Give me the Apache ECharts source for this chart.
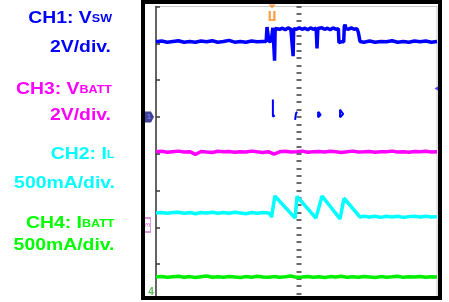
<!DOCTYPE html>
<html><head><meta charset="utf-8">
<script src="https://cdn.jsdelivr.net/npm/echarts@6/dist/echarts.min.js"></script>
<style>html,body{margin:0;padding:0;background:#fff;}#c{width:449px;height:302px;}</style>
</head><body><div id="c"></div>
<script>
// ---- text ----
const labelMain = ['CH1: V', 'CH3: V', 'CH2: I', 'CH4: I'];
const labelSub = ['SW', 'BATT', 'L', 'BATT'];
const labelScale = ['2V/div.', '2V/div.', '500mA/div.', '500mA/div.'];

// ---- data (screen divisions: x -5..5, y 0..8 from bottom) ----
const xFlat = [-5,-4.8,-4.6,-4.4,-4.2,-4,-3.8,-3.6,-3.4,-3.2,-3,-2.8,-2.6,-2.4,-2.2,-2,-1.8,-1.6,-1.4,-1.2,-1,-0.8,-0.6,-0.4,-0.2,0,0.2,0.4,0.6,0.8,1,1.2,1.4,1.6,1.8,2,2.2,2.4,2.6,2.8,3,3.2,3.4,3.6,3.8,4,4.2,4.4,4.6,4.8,5];
const ch3Values = [4.05,4.065,4.04,4.055,4.07,4.045,4.055,3.98,4.06,4.045,
  4.035,4.065,4.05,4.06,4.04,4.055,4.045,4.07,4.05,4.035,
  4.055,3.99,4.05,4.065,4.045,4.055,4.07,4.04,4.05,4.06,
  4.045,4.065,4.05,4.035,4.055,4.07,4.045,4.05,4.06,4.04,
  4.055,4.05,4.07,4.045,4.055,4.04,4.06,4.05,4.065,4.045,4.055];
const ch4Values = [0.65,0.665,0.64,0.655,0.67,0.645,0.66,0.635,0.655,0.675,
  0.645,0.655,0.64,0.665,0.65,0.635,0.66,0.645,0.67,0.65,
  0.64,0.66,0.645,0.655,0.675,0.64,0.65,0.665,0.645,0.655,
  0.635,0.66,0.65,0.67,0.64,0.655,0.645,0.665,0.65,0.635,
  0.66,0.645,0.655,0.67,0.64,0.655,0.65,0.665,0.645,0.655,0.65];
const ch1Points = [
  [-5,7.04],[-4.8,7.06],[-4.6,7.03],[-4.4,7.05],[-4.2,7.07],[-4,7.03],[-3.8,7.05],[-3.6,7.03],[-3.4,7.06],[-3.2,7.04],
  [-3,7.07],[-2.8,7.03],[-2.6,7.05],[-2.4,7.08],[-2.2,7.03],[-2,7.05],[-1.8,7.03],[-1.6,7.06],[-1.4,7.04],[-1.2,7.05],
  [-1.08,7.05],[-1.05,7.44],[-1.01,7.22],[-0.98,7.05],[-0.9,7.06],[-0.85,7.05],
  [-0.84,7.42],[-0.8,7.40],[-0.78,6.53],[-0.76,7.40],
  [-0.7,7.42],[-0.6,7.38],[-0.5,7.41],[-0.4,7.37],[-0.3,7.42],[-0.2,7.38],[-0.14,7.41],
  [-0.12,6.65],[-0.1,7.40],
  [0,7.38],[0.1,7.42],[0.2,7.38],[0.3,7.41],[0.4,7.37],[0.5,7.42],[0.6,7.38],[0.7,7.41],
  [0.73,6.86],[0.76,7.40],
  [0.8,7.38],[0.9,7.42],[1,7.38],[1.1,7.41],[1.2,7.37],[1.3,7.42],[1.4,7.38],[1.49,7.40],
  [1.51,7.02],[1.6,7.04],[1.68,7.04],
  [1.7,7.45],[1.73,7.51],[1.76,7.40],[1.85,7.38],[1.95,7.42],[2.05,7.38],[2.15,7.40],
  [2.2,7.30],[2.26,7.05],
  [2.4,7.03],[2.6,7.06],[2.8,7.03],[3,7.05],[3.2,7.04],[3.4,7.07],[3.6,7.03],[3.8,7.05],[4,7.03],[4.2,7.06],
  [4.4,7.04],[4.6,7.06],[4.8,7.03],[5,7.05]
];
const ch1Marks = [
  [-0.84,5.47],[-0.84,5.01],[-0.77,5.04],'-',
  [-0.05,4.92],[-0.02,5.09],[0.02,5.14],'-',
  [0.77,5.14],[0.77,4.99],[0.86,5.06],[0.77,5.14],'-',
  [1.55,5.20],[1.55,4.99],[1.66,5.08],[1.55,5.20]
];
const ch2Points = [
  [-5,2.39],[-4.8,2.40],[-4.6,2.38],[-4.4,2.40],[-4.2,2.41],[-4,2.38],[-3.8,2.40],[-3.6,2.37],[-3.4,2.40],[-3.2,2.39],
  [-3,2.41],[-2.8,2.38],[-2.6,2.40],[-2.4,2.38],[-2.2,2.41],[-2,2.39],[-1.8,2.37],[-1.6,2.40],[-1.4,2.38],[-1.2,2.40],
  [-1,2.39],[-0.92,2.35],[-0.89,2.27],
  [-0.77,2.85],[-0.05,2.25],
  [0.02,2.84],[0.69,2.25],
  [0.91,2.85],[1.55,2.23],
  [1.69,2.79],[2.26,2.28],
  [2.4,2.30],[2.6,2.28],[2.8,2.30],[3,2.27],[3.2,2.30],[3.4,2.28],[3.6,2.30],[3.8,2.27],[4,2.29],[4.2,2.30],
  [4.4,2.28],[4.6,2.30],[4.8,2.28],[5,2.29]
];
// channel reference markers and trigger
const refMarkers = [[-5.25, 5.0], [-5.30, 2.06], [-5.18, 0.24]];
const refNames = ['1', '3', '4'];
const triggerTime = -0.87;
const trigLevel = [5.0, 5.77];

// ---- styles / layout ----
const labelColors = ['#0000ff', '#ff00ff', '#00ffff', '#00ff00'];
const mainRight = [112, 112, 114.5, 114.5];
const mainBase = [23.3, 94, 159.3, 228.3];
const scaleRight = [111, 111, 115, 114.5];
const scaleBase = [53.5, 121.7, 189.3, 251.7];
const FONT = 'Liberation Sans';
const SX = 1.14;

const graphics = [];
labelMain.forEach((t, i) => {
  graphics.push({
    type: 'text', x: mainRight[i], y: mainBase[i] + 4, scaleX: SX,
    style: {
      text: '{a|' + t + '}{b|' + labelSub[i] + '}',
      align: 'right', verticalAlign: 'bottom',
      rich: {
        a: {fontSize: 17, fontWeight: 'bold', fontFamily: FONT, fill: labelColors[i], lineHeight: 20, verticalAlign: 'bottom'},
        b: {fontSize: 11, fontWeight: 'bold', fontFamily: FONT, fill: labelColors[i], lineHeight: 20, verticalAlign: 'bottom', padding: [0, 0, 2.5, 0]}
      }
    }
  });
  graphics.push({
    type: 'text', x: scaleRight[i], y: scaleBase[i] + 4, scaleX: SX,
    style: {
      text: labelScale[i], align: 'right', verticalAlign: 'bottom',
      fontSize: 17, fontWeight: 'bold', fontFamily: FONT, fill: labelColors[i], lineHeight: 20
    }
  });
});
graphics.push({type: 'rect', z: 100, shape: {x: 140, y: 300, width: 309, height: 2}, style: {fill: '#fff'}});
graphics.push({type: 'rect', z: 101, shape: {x: 143, y: 2, width: 297, height: 296}, style: {fill: null, stroke: '#000', lineWidth: 4}});

const chart = echarts.init(document.getElementById('c'), null, {renderer: 'canvas'});
const lineBase = {type: 'line', showSymbol: false, symbol: 'none', animation: false, silent: true};
chart.setOption({
  animation: false,
  backgroundColor: '#fff',
  grid: {left: 156, right: 12, top: 6.5, bottom: 1.1, show: true, borderColor: '#c8c8c8', borderWidth: 1, backgroundColor: '#fff'},
  xAxis: {type: 'value', min: -5, max: 5, interval: 1, axisLine: {show: false}, axisTick: {show: false}, axisLabel: {show: false}, splitLine: {show: false}},
  yAxis: [
    {type: 'value', min: 0, max: 8, interval: 1, position: 'left',
     axisLine: {show: true, onZero: false, lineStyle: {color: '#3a3a3a', width: 1.5}},
     axisTick: {show: true, inside: true, length: 4, lineStyle: {color: '#3a3a3a', width: 1.5}},
     axisLabel: {show: false}, splitLine: {show: false}},
    {type: 'value', min: 0, max: 8, interval: 1, position: 'left', offset: -140.5,
     axisLine: {show: false, onZero: false},
     axisTick: {show: true, inside: true, length: 5, lineStyle: {color: '#3a3a3a', width: 1.5}},
     minorTick: {show: true, splitNumber: 5, length: 5, lineStyle: {color: '#3a3a3a', width: 1.5}},
     axisLabel: {show: false}, splitLine: {show: false}}
  ],
  graphic: graphics,
  series: [
    Object.assign({}, lineBase, {name: 'CH3', data: xFlat.map((x, i) => [x, ch3Values[i]]), lineStyle: {color: '#ff00ff', width: 3.5}, itemStyle: {color: '#ff00ff'}}),
    Object.assign({}, lineBase, {name: 'CH4', data: xFlat.map((x, i) => [x, ch4Values[i]]), lineStyle: {color: '#00ee00', width: 3.5}, itemStyle: {color: '#00ee00'}}),
    Object.assign({}, lineBase, {name: 'CH2', data: ch2Points, lineStyle: {color: '#00ffff', width: 3.5}, itemStyle: {color: '#00ffff'}}),
    Object.assign({}, lineBase, {name: 'CH1', data: ch1Points, lineStyle: {color: '#0000ff', width: 3.5}, itemStyle: {color: '#0000ff'}}),
    Object.assign({}, lineBase, {name: 'CH1b', data: ch1Marks, connectNulls: false, lineStyle: {color: '#0000ff', width: 2}, itemStyle: {color: '#0000ff'}}),
    {type: 'scatter', clip: false, silent: true, z: 5,
     data: [
       {value: refMarkers[0], symbol: 'path://M0,0 L7,0 L10,5 L7,10 L0,10 Z', symbolSize: [10, 11], itemStyle: {color: '#101080'},
        label: {show: true, formatter: refNames[0], color: '#7f7fff', fontSize: 8, fontWeight: 'bold', position: 'inside'}},
       {value: refMarkers[1], symbol: 'rect', symbolSize: [6, 14], itemStyle: {color: '#fff', borderColor: '#cc44cc', borderWidth: 1},
        label: {show: true, formatter: refNames[1], color: '#cc44cc', fontSize: 8, rotate: 90, position: 'inside'}},
       {value: refMarkers[2], symbol: 'circle', symbolSize: 0,
        label: {show: true, formatter: refNames[2], color: '#33aa33', fontSize: 10, fontWeight: 'bold', position: 'inside'}},
       {value: [triggerTime, 8.0], symbol: 'triangle', symbolRotate: 180, symbolSize: [7, 4], itemStyle: {color: '#ff8c1a'}},
       {value: [triggerTime, 7.74], symbol: 'path://M0,0 L2,0 L2,8 L4,8 L4,0 L6,0 L6,10 L0,10 Z', symbolSize: [7, 10], itemStyle: {color: '#ff8c1a'}},
       {value: [5, trigLevel[1]], symbol: 'triangle', symbolRotate: 90, symbolSize: [6, 5], itemStyle: {color: '#2020ff'}}
     ]}
  ]
});
</script></body></html>
